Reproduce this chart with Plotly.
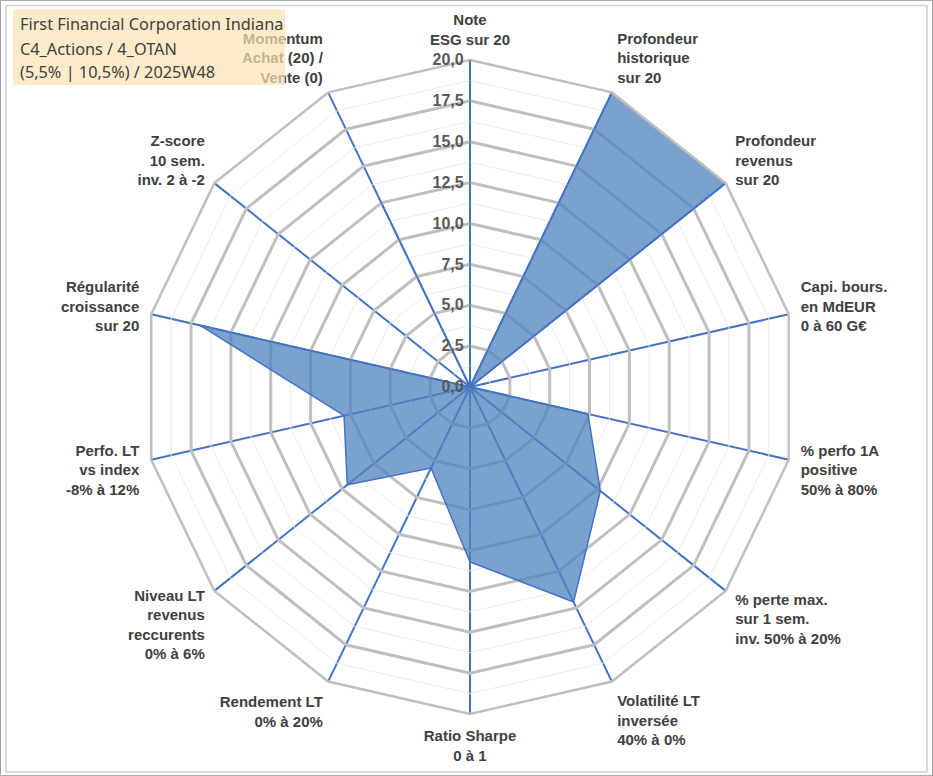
import plotly.graph_objects as go

axis_labels = [
    "Note<br>ESG sur 20",
    "Profondeur<br>historique<br>sur 20",
    "Profondeur<br>revenus<br>sur 20",
    "Capi. bours.<br>en MdEUR<br>0 à 60 G€",
    "% perfo 1A<br>positive<br>50% à 80%",
    "% perte max.<br>sur 1 sem.<br>inv. 50% à 20%",
    "Volatilité LT<br>inversée<br>40% à 0%",
    "Ratio Sharpe<br>0 à 1",
    "Rendement LT<br>0% à 20%",
    "Niveau LT<br>revenus<br>reccurents<br>0% à 6%",
    "Perfo. LT<br>vs index<br>-8% à 12%",
    "Régularité<br>croissance<br>sur 20",
    "Z-score<br>10 sem.<br>inv. 2 à -2",
    "Momentum<br>Achat (20) /<br>Vente (0)",
]
scores = [0, 20, 20, 0, 7.4, 10.2, 14.6, 10.7, 5.5, 9.6, 7.9, 16.9, 0, 12.6]
minor_levels = [1.25, 3.75, 6.25, 8.75, 11.25, 13.75, 16.25, 18.75]
title_lines = ["First Financial Corporation Indiana", "C4_Actions / 4_OTAN",
               "(5,5% | 10,5%) / 2025W48"]
title_y = [0.9687, 0.9365, 0.9076]

fig = go.Figure()

# light minor grid between the major rings
for lv in minor_levels:
    fig.add_trace(go.Scatterpolar(
        r=[lv] * (len(axis_labels) + 1), theta=axis_labels + axis_labels[:1],
        mode="lines", line=dict(color="#EBEBEB", width=1),
        hoverinfo="skip", showlegend=False))

fig.add_trace(go.Scatterpolar(
    r=scores + scores[:1], theta=axis_labels + axis_labels[:1],
    mode="lines", fill="toself", fillcolor="rgba(79,129,189,0.75)",
    line=dict(color="#4472C4", width=1.5), showlegend=False))

fig.update_layout(
    width=933, height=776,
    margin=dict(l=0, r=0, t=0, b=0),
    paper_bgcolor="white",
    separators=", ",
    showlegend=False,
    polar=dict(
        domain=dict(x=[0.1533, 0.8542], y=[0.0799, 0.9227]),
        gridshape="linear",
        bgcolor="white",
        radialaxis=dict(
            range=[0, 20], dtick=2.5, tick0=0, tickformat=".1f",
            angle=90, side="counterclockwise", tickangle=90,
            showline=True, linecolor="#4472C4", linewidth=1.5,
            gridcolor="#BFBFBF", gridwidth=2.5, ticks="",
            tickfont=dict(family="Liberation Sans", size=16, color="#595959", weight="bold"),
        ),
        angularaxis=dict(
            rotation=90, direction="clockwise",
            showline=True, linecolor="#BFBFBF", linewidth=2.5,
            gridcolor="#4472C4", gridwidth=1.5,
            ticks="outside", ticklen=8, tickcolor="rgba(0,0,0,0)",
            tickfont=dict(family="Liberation Sans", size=15, color="#404040", weight="bold"),
        ),
    ),
    shapes=[
        dict(type="rect", xref="paper", yref="paper", x0=0.0139, x1=0.3055,
             y0=0.8905, y1=0.988, fillcolor="rgba(251,226,178,0.7)",
             line=dict(width=0), layer="above"),
        dict(type="rect", xref="paper", yref="paper", x0=0.0065, x1=0.9935,
             y0=0.005, y1=0.993, line=dict(color="#D0D0D0", width=1.5)),
        dict(type="rect", xref="paper", yref="paper", x0=0.0005, x1=0.9995,
             y0=0.0005, y1=0.9995, line=dict(color="#A0A0A0", width=1)),
    ],
    annotations=[
        dict(text=line, xref="paper", yref="paper", x=0.0195, y=ty,
             xanchor="left", yanchor="middle", showarrow=False,
             font=dict(family="Noto Sans", size=16.3, color="#404040"))
        for line, ty in zip(title_lines, title_y)
    ],
)

fig.write_html("out.html", config={"displayModeBar": False},
               post_script="document.body.style.margin='0';")
